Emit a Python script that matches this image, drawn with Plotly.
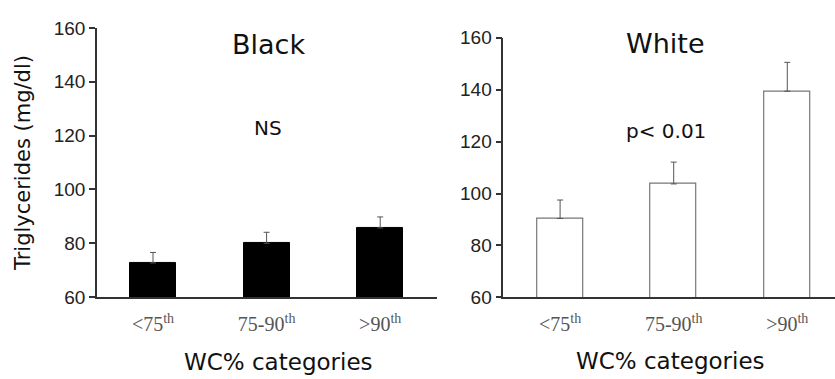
import plotly.graph_objects as go

categories = ["&lt;75<sup>th</sup>", "75-90<sup>th</sup>", "&gt;90<sup>th</sup>"]
black_vals = [72.7, 80.0, 85.7]
black_err = [3.9, 4.1, 4.1]
white_vals = [90.4, 103.7, 139.4]
white_err = [7.1, 8.4, 11.1]
y_ticks = [60, 80, 100, 120, 140, 160]

W, H = 835, 379
fig = go.Figure()

fig.add_trace(go.Bar(
    x=[0, 1, 2], y=black_vals, width=0.405,
    marker=dict(color="black", line=dict(color="black", width=1)),
    error_y=dict(type="data", array=black_err, arrayminus=[0, 0, 0], symmetric=False,
                 color="#555", thickness=1, width=3),
    xaxis="x", yaxis="y", showlegend=False))

fig.add_trace(go.Bar(
    x=[0, 1, 2], y=white_vals, width=0.405,
    marker=dict(color="white", line=dict(color="#777", width=1.2)),
    error_y=dict(type="data", array=white_err, arrayminus=[0, 0, 0], symmetric=False,
                 color="#555", thickness=1, width=3),
    xaxis="x2", yaxis="y2", showlegend=False))

TF = "DejaVu Sans"
ytitle_font = dict(family=TF, size=21, color="#111")
tick_font_y = dict(family="Liberation Sans", size=19, color="#222")
tick_font_x = dict(family="Liberation Serif", size=20, color="#555")

def px_x(p):
    return p / W

def px_y(p):
    return (H - p) / H

common_x = dict(tickmode="array", tickvals=[0, 1, 2], ticktext=categories,
                showline=True, linecolor="#333", linewidth=1.5, ticks="",
                tickfont=tick_font_x, showgrid=False, zeroline=False,
                ticklabelstandoff=8)
common_y = dict(range=[60, 160], tickmode="array", tickvals=y_ticks,
                showline=True, linecolor="#333", linewidth=1.5, ticks="outside",
                ticklen=6, tickwidth=1.5, tickcolor="#333", tickfont=tick_font_y,
                showgrid=False, zeroline=False)

def note(text, x, y, size):
    return dict(text=text, x=px_x(x), y=px_y(y), xref="paper", yref="paper",
                xanchor="center", yanchor="middle", showarrow=False,
                font=dict(family=TF, size=size, color="#111"))

fig.update_layout(
    width=W, height=H, margin=dict(l=0, r=0, t=0, b=0),
    plot_bgcolor="white", paper_bgcolor="white", bargap=0,
    xaxis=dict(domain=[px_x(97), px_x(437)], range=[-0.493, 2.50], anchor="y",
               **common_x),
    yaxis=dict(domain=[px_y(304), px_y(19)], anchor="x",
               title=dict(text="Triglycerides (mg/dl)", font=ytitle_font, standoff=17),
               **common_y),
    xaxis2=dict(domain=[px_x(503.3), 1.0], range=[-0.5, 2.42], anchor="y2",
                **common_x),
    yaxis2=dict(domain=[px_y(304.3), px_y(29.3)], anchor="x2", **common_y),
    annotations=[
        note("Black", 268.5, 36, 27),
        note("White", 665, 35, 27),
        note("NS", 268, 125, 20),
        note("p&lt; 0.01", 665.5, 128, 20),
        note("WC% categories", 278.5, 373, 23),
        note("WC% categories", 670, 372, 23),
    ],
)

fig.write_html("out.html")
